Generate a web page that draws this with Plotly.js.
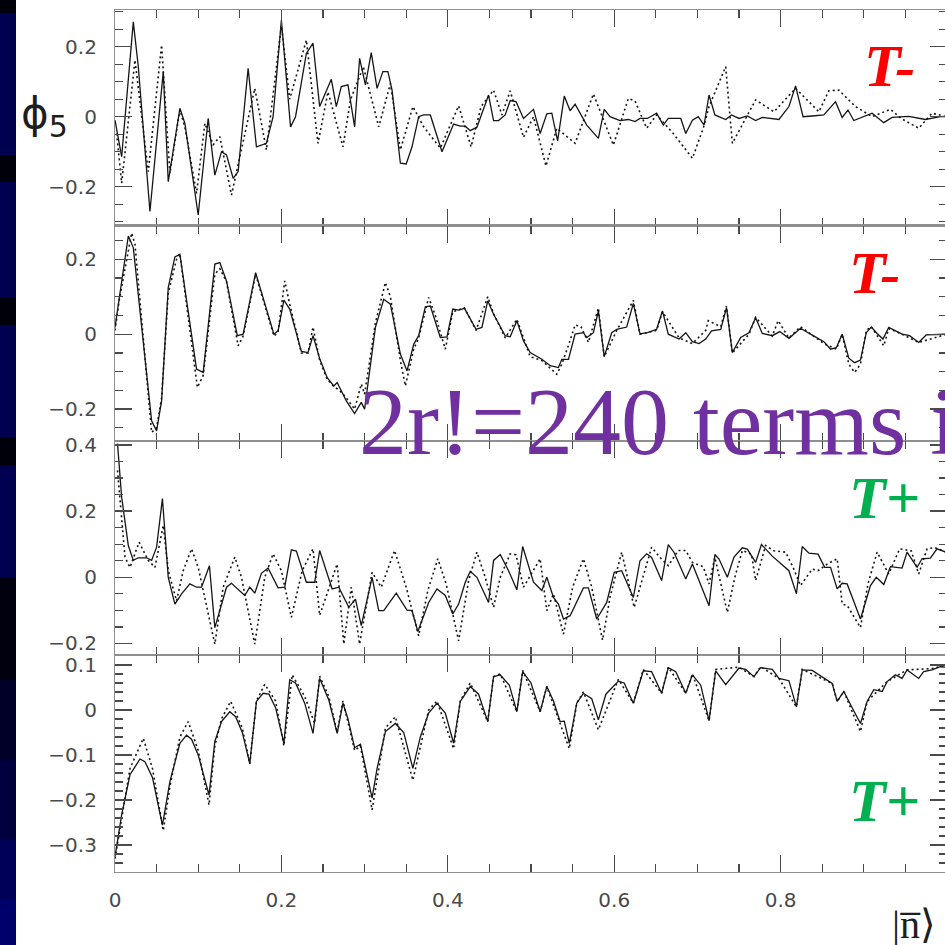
<!DOCTYPE html>
<html><head><meta charset="utf-8">
<script src="https://cdn.plot.ly/plotly-3.0.1.min.js"></script>
<style>html,body{margin:0;padding:0;overflow:hidden;background:#fff}#chart{width:947px;height:945px}</style>
</head><body><div id="chart"></div>
<script>
// ---------------- data (x = |n>, y = phi_5) ----------------
const p1Solid = [[0,-0.01],[0.008,-0.114],[0.022,0.271],[0.028,0.143],[0.042,-0.271],[0.058,0.129],[0.064,-0.186],[0.078,0.024],[0.084,-0.019],[0.100,-0.281],[0.112,-0.005],[0.120,-0.167],[0.128,-0.100],[0.134,-0.109],[0.142,-0.176],[0.148,-0.157],[0.160,0.138],[0.170,-0.086],[0.182,-0.076],[0.190,0.000],[0.200,0.276],[0.211,-0.029],[0.217,0.000],[0.230,0.181],[0.238,0.210],[0.246,0.029],[0.260,0.107],[0.266,0.029],[0.272,0.086],[0.280,0.091],[0.288,-0.029],[0.294,0.167],[0.301,0.091],[0.308,0.183],[0.315,0.081],[0.322,0.129],[0.328,0.129],[0.333,0.076],[0.343,-0.133],[0.350,-0.135],[0.357,-0.086],[0.365,0.000],[0.371,0.005],[0.379,0.005],[0.393,-0.100],[0.407,-0.021],[0.415,-0.027],[0.421,-0.027],[0.427,-0.040],[0.435,-0.030],[0.449,0.062],[0.455,-0.011],[0.461,-0.011],[0.469,0.005],[0.475,0.046],[0.482,0.043],[0.491,-0.005],[0.503,0.021],[0.511,-0.048],[0.519,0.008],[0.525,0.010],[0.532,-0.069],[0.540,0.059],[0.547,0.017],[0.553,0.036],[0.567,-0.024],[0.581,-0.062],[0.588,0.021],[0.595,0.000],[0.607,-0.011],[0.617,-0.008],[0.625,-0.014],[0.631,-0.005],[0.640,-0.005],[0.651,0.010],[0.659,-0.024],[0.665,-0.005],[0.680,-0.005],[0.686,-0.048],[0.694,-0.010],[0.701,0.000],[0.708,-0.024],[0.714,0.062],[0.721,0.005],[0.734,-0.008],[0.741,0.005],[0.750,-0.005],[0.760,0.002],[0.770,-0.011],[0.778,-0.002],[0.798,-0.008],[0.810,0.029],[0.818,0.088],[0.827,0.000],[0.838,0.002],[0.852,0.005],[0.866,0.043],[0.874,-0.002],[0.881,0.019],[0.888,-0.011],[0.910,0.010],[0.924,-0.017],[0.934,-0.002],[0.954,0.001],[0.974,-0.008],[0.992,0.000],[1.0,0.0]];
const p1Dotted = [[0.002,-0.048],[0.008,-0.190],[0.024,0.162],[0.040,-0.157],[0.056,0.205],[0.066,-0.162],[0.078,0.020],[0.084,-0.030],[0.098,-0.219],[0.108,-0.019],[0.118,-0.080],[0.126,-0.057],[0.140,-0.224],[0.168,0.081],[0.182,-0.095],[0.200,0.260],[0.210,0.050],[0.230,0.219],[0.244,-0.076],[0.256,0.071],[0.274,-0.086],[0.283,0.048],[0.2985,0.143],[0.317,-0.029],[0.331,0.095],[0.343,-0.095],[0.358,0.029],[0.371,-0.029],[0.391,-0.090],[0.413,0.031],[0.428,-0.086],[0.440,0.029],[0.455,0.076],[0.465,0.005],[0.475,0.074],[0.491,-0.059],[0.503,0.000],[0.518,-0.141],[0.531,-0.033],[0.553,-0.076],[0.575,0.065],[0.599,-0.081],[0.617,0.052],[0.625,0.045],[0.639,-0.033],[0.651,0.005],[0.671,-0.048],[0.694,-0.119],[0.707,-0.033],[0.714,0.029],[0.734,0.143],[0.742,-0.076],[0.770,0.048],[0.792,0.014],[0.818,0.081],[0.828,0.057],[0.846,0.014],[0.858,0.074],[0.870,0.076],[0.890,0.029],[0.910,0.000],[0.932,0.021],[0.945,-0.005],[0.966,-0.033],[0.982,0.010],[1.0,0.0]];
const p2Solid = [[0,0.018],[0.005,0.098],[0.016,0.262],[0.022,0.231],[0.044,-0.231],[0.050,-0.258],[0.056,-0.178],[0.064,0.124],[0.072,0.206],[0.078,0.213],[0.098,-0.093],[0.106,-0.102],[0.120,0.187],[0.126,0.191],[0.134,0.142],[0.147,-0.004],[0.154,0.000],[0.169,0.164],[0.191,0.000],[0.196,0.009],[0.203,0.091],[0.210,0.067],[0.224,-0.046],[0.232,-0.049],[0.238,-0.004],[0.246,-0.065],[0.255,-0.116],[0.263,-0.138],[0.267,-0.129],[0.278,-0.178],[0.288,-0.212],[0.296,-0.182],[0.300,-0.200],[0.313,0.018],[0.323,0.093],[0.331,0.080],[0.343,-0.053],[0.351,-0.098],[0.359,-0.027],[0.365,-0.004],[0.373,0.073],[0.379,0.075],[0.391,-0.009],[0.399,-0.007],[0.406,0.067],[0.413,0.064],[0.420,0.069],[0.434,0.013],[0.441,0.018],[0.448,0.089],[0.455,0.053],[0.469,-0.004],[0.475,-0.007],[0.483,0.036],[0.491,-0.018],[0.499,-0.049],[0.513,-0.067],[0.523,-0.084],[0.533,-0.089],[0.537,-0.067],[0.545,-0.067],[0.553,0.000],[0.563,0.004],[0.567,-0.009],[0.575,0.004],[0.581,0.062],[0.588,-0.060],[0.597,0.004],[0.603,0.013],[0.615,0.019],[0.623,0.082],[0.631,0.001],[0.640,0.004],[0.651,0.013],[0.658,0.062],[0.665,0.000],[0.678,-0.013],[0.686,0.004],[0.694,-0.020],[0.702,-0.025],[0.710,-0.013],[0.717,0.009],[0.728,0.013],[0.735,0.071],[0.742,-0.049],[0.752,-0.009],[0.762,0.004],[0.770,0.044],[0.778,0.002],[0.790,-0.004],[0.799,0.007],[0.810,-0.011],[0.818,0.004],[0.824,0.016],[0.836,0.000],[0.852,-0.020],[0.860,-0.040],[0.867,-0.036],[0.874,0.000],[0.882,-0.064],[0.889,-0.076],[0.896,-0.069],[0.903,0.004],[0.909,0.019],[0.916,0.002],[0.923,-0.013],[0.930,0.018],[0.946,0.000],[0.955,-0.004],[0.966,-0.022],[0.975,-0.002],[0.992,0.000],[1.0,0.0]];
const p2Dotted = [[0,0.010],[0.005,0.090],[0.020,0.270],[0.024,0.240],[0.044,-0.262],[0.050,-0.250],[0.056,-0.170],[0.064,0.110],[0.074,0.200],[0.078,0.215],[0.099,-0.142],[0.106,-0.110],[0.120,0.160],[0.126,0.175],[0.134,0.140],[0.148,-0.031],[0.154,-0.005],[0.169,0.160],[0.191,-0.005],[0.196,0.005],[0.204,0.142],[0.210,0.080],[0.224,-0.050],[0.232,-0.050],[0.238,0.019],[0.246,-0.070],[0.255,-0.120],[0.263,-0.140],[0.270,-0.150],[0.278,-0.170],[0.288,-0.200],[0.296,-0.133],[0.300,-0.160],[0.313,0.030],[0.325,0.138],[0.331,0.100],[0.343,-0.070],[0.349,-0.138],[0.359,-0.040],[0.365,-0.010],[0.377,0.098],[0.385,0.050],[0.397,-0.040],[0.406,0.060],[0.420,0.070],[0.434,0.010],[0.448,0.100],[0.455,0.055],[0.469,-0.010],[0.483,0.040],[0.499,-0.060],[0.513,-0.070],[0.531,-0.107],[0.537,-0.080],[0.545,-0.030],[0.553,0.025],[0.560,0.020],[0.569,-0.022],[0.581,0.070],[0.588,-0.060],[0.603,0.010],[0.623,0.090],[0.631,0.000],[0.651,0.010],[0.658,0.060],[0.678,-0.010],[0.694,-0.025],[0.710,0.010],[0.713,0.036],[0.728,0.020],[0.735,0.075],[0.742,-0.050],[0.762,0.000],[0.770,0.045],[0.790,-0.005],[0.797,0.036],[0.810,-0.010],[0.824,0.020],[0.852,-0.025],[0.867,-0.040],[0.874,0.000],[0.882,-0.080],[0.889,-0.102],[0.896,-0.080],[0.903,0.010],[0.909,0.020],[0.924,-0.031],[0.930,0.015],[0.946,0.000],[0.966,-0.022],[1.0,0.0]];
const p3Solid = [[0.003,0.404],[0.008,0.242],[0.016,0.096],[0.022,0.051],[0.028,0.059],[0.038,0.059],[0.044,0.051],[0.050,0.091],[0.057,0.238],[0.064,0.000],[0.072,-0.081],[0.080,-0.050],[0.090,-0.020],[0.098,-0.030],[0.104,-0.030],[0.1135,0.035],[0.120,-0.152],[0.134,-0.030],[0.140,-0.018],[0.156,-0.055],[0.162,-0.030],[0.168,-0.048],[0.176,0.012],[0.184,0.028],[0.196,-0.032],[0.204,-0.030],[0.212,0.083],[0.218,0.079],[0.230,-0.015],[0.240,-0.015],[0.246,0.081],[0.261,-0.035],[0.269,-0.030],[0.281,-0.091],[0.289,-0.066],[0.296,-0.146],[0.309,0.000],[0.317,-0.101],[0.323,-0.101],[0.338,-0.048],[0.351,-0.099],[0.357,-0.101],[0.364,-0.164],[0.377,-0.076],[0.387,-0.035],[0.397,-0.055],[0.406,-0.111],[0.413,-0.081],[0.421,-0.015],[0.427,0.018],[0.435,0.000],[0.449,-0.076],[0.455,0.051],[0.463,0.069],[0.473,0.020],[0.483,-0.038],[0.490,0.093],[0.503,-0.015],[0.513,-0.040],[0.519,0.000],[0.527,-0.061],[0.533,-0.081],[0.539,-0.126],[0.547,-0.116],[0.563,-0.032],[0.569,-0.032],[0.579,-0.126],[0.591,-0.076],[0.600,0.015],[0.609,0.020],[0.623,-0.061],[0.631,0.050],[0.639,0.071],[0.645,0.060],[0.657,-0.010],[0.665,0.099],[0.672,0.075],[0.686,-0.005],[0.694,0.040],[0.701,-0.005],[0.714,-0.086],[0.721,0.069],[0.726,0.055],[0.736,0.000],[0.744,0.061],[0.754,0.089],[0.760,0.085],[0.770,0.045],[0.777,0.099],[0.790,0.064],[0.810,0.020],[0.819,-0.050],[0.826,0.093],[0.834,0.073],[0.845,0.070],[0.853,0.030],[0.860,0.030],[0.868,-0.035],[0.874,-0.018],[0.880,-0.020],[0.888,-0.071],[0.896,-0.126],[0.908,-0.025],[0.915,0.000],[0.924,-0.022],[0.932,0.032],[0.946,0.028],[0.952,0.076],[0.964,0.030],[0.970,0.056],[0.980,0.058],[0.988,0.086],[1.0,0.075]];
const p3Dotted = [[0.003,0.323],[0.012,0.061],[0.018,0.030],[0.029,0.106],[0.040,0.051],[0.048,0.030],[0.058,0.157],[0.064,0.020],[0.074,-0.071],[0.082,0.020],[0.092,0.086],[0.100,0.030],[0.120,-0.202],[0.130,-0.030],[0.144,0.061],[0.152,0.000],[0.168,-0.202],[0.180,0.000],[0.190,0.071],[0.200,0.020],[0.212,-0.121],[0.225,0.020],[0.238,0.086],[0.246,-0.115],[0.267,0.040],[0.275,-0.202],[0.284,-0.030],[0.294,-0.202],[0.309,0.015],[0.320,-0.030],[0.336,0.081],[0.350,-0.030],[0.365,-0.177],[0.376,-0.040],[0.388,0.056],[0.398,-0.020],[0.413,-0.192],[0.425,-0.010],[0.435,0.076],[0.445,0.000],[0.455,-0.091],[0.463,0.000],[0.475,0.071],[0.482,0.068],[0.491,-0.030],[0.500,0.010],[0.511,0.056],[0.519,-0.101],[0.527,-0.050],[0.539,-0.172],[0.550,-0.030],[0.563,0.056],[0.573,-0.030],[0.586,-0.190],[0.595,-0.060],[0.609,0.076],[0.624,-0.091],[0.645,0.091],[0.655,0.060],[0.665,0.035],[0.677,0.081],[0.686,0.081],[0.694,0.045],[0.707,0.032],[0.714,-0.020],[0.721,0.060],[0.736,-0.106],[0.745,0.000],[0.754,0.081],[0.765,0.070],[0.770,-0.010],[0.782,0.096],[0.792,0.080],[0.806,0.076],[0.815,0.030],[0.824,-0.025],[0.838,0.025],[0.845,0.020],[0.856,0.040],[0.868,0.056],[0.874,-0.081],[0.880,-0.085],[0.896,-0.152],[0.905,-0.020],[0.916,0.076],[0.930,0.010],[0.943,0.086],[0.957,0.080],[0.966,0.010],[0.976,0.086],[0.985,0.090],[1.0,0.075]];
const p4Solid = [[0,-0.326],[0.008,-0.233],[0.018,-0.144],[0.030,-0.109],[0.036,-0.115],[0.045,-0.150],[0.057,-0.256],[0.066,-0.159],[0.078,-0.074],[0.086,-0.056],[0.092,-0.065],[0.100,-0.100],[0.113,-0.189],[0.120,-0.070],[0.128,-0.026],[0.138,-0.004],[0.145,-0.015],[0.153,-0.050],[0.162,-0.119],[0.170,0.019],[0.178,0.037],[0.185,0.035],[0.193,0.005],[0.203,-0.074],[0.210,0.067],[0.217,0.060],[0.228,0.015],[0.238,-0.052],[0.246,0.070],[0.257,0.022],[0.267,-0.052],[0.274,0.015],[0.280,-0.020],[0.288,-0.084],[0.295,-0.076],[0.309,-0.196],[0.315,-0.130],[0.325,-0.048],[0.337,-0.030],[0.347,-0.050],[0.358,-0.130],[0.367,-0.060],[0.377,-0.007],[0.387,0.015],[0.397,-0.007],[0.407,-0.074],[0.415,0.019],[0.427,0.052],[0.437,0.035],[0.448,-0.026],[0.455,0.074],[0.463,0.078],[0.474,0.055],[0.483,-0.004],[0.490,0.085],[0.500,0.060],[0.511,-0.004],[0.519,0.052],[0.527,0.020],[0.535,-0.026],[0.540,-0.025],[0.546,-0.074],[0.555,0.015],[0.563,0.037],[0.573,0.025],[0.581,-0.022],[0.590,0.035],[0.605,0.064],[0.612,0.060],[0.623,0.015],[0.635,0.087],[0.645,0.085],[0.657,0.037],[0.665,0.094],[0.674,0.085],[0.686,0.037],[0.694,0.078],[0.704,0.055],[0.714,-0.024],[0.722,0.087],[0.734,0.056],[0.750,0.093],[0.758,0.090],[0.768,0.074],[0.776,0.094],[0.790,0.090],[0.798,0.070],[0.810,0.065],[0.819,0.007],[0.826,0.089],[0.838,0.088],[0.853,0.070],[0.862,0.059],[0.868,0.019],[0.876,0.041],[0.886,0.005],[0.896,-0.030],[0.904,0.019],[0.912,0.045],[0.922,0.041],[0.928,0.063],[0.938,0.078],[0.946,0.070],[0.952,0.089],[0.966,0.070],[0.972,0.085],[0.982,0.089],[0.992,0.096],[1.0,0.095]];
const p4Dotted = [[0,-0.330],[0.008,-0.240],[0.018,-0.130],[0.034,-0.063],[0.045,-0.130],[0.058,-0.268],[0.066,-0.170],[0.078,-0.060],[0.088,-0.026],[0.100,-0.090],[0.113,-0.211],[0.120,-0.080],[0.128,-0.020],[0.139,0.019],[0.153,-0.040],[0.162,-0.120],[0.170,0.020],[0.180,0.057],[0.193,0.020],[0.203,-0.080],[0.213,0.078],[0.228,0.030],[0.240,-0.030],[0.246,0.075],[0.257,0.030],[0.267,-0.050],[0.274,0.020],[0.288,-0.090],[0.295,-0.080],[0.309,-0.222],[0.325,-0.040],[0.337,-0.015],[0.358,-0.156],[0.377,0.000],[0.387,0.020],[0.407,-0.086],[0.415,0.020],[0.427,0.060],[0.448,-0.026],[0.455,0.074],[0.463,0.080],[0.483,-0.004],[0.490,0.088],[0.511,-0.004],[0.519,0.052],[0.535,-0.030],[0.546,-0.086],[0.555,0.015],[0.563,0.040],[0.581,-0.044],[0.605,0.068],[0.623,0.015],[0.635,0.090],[0.657,0.037],[0.665,0.095],[0.686,0.037],[0.694,0.080],[0.714,-0.024],[0.722,0.090],[0.750,0.095],[0.768,0.074],[0.776,0.096],[0.798,0.070],[0.819,0.007],[0.826,0.090],[0.862,0.059],[0.868,0.019],[0.876,0.041],[0.896,-0.048],[0.904,0.019],[0.928,0.063],[0.952,0.089],[0.982,0.092],[1.0,0.100]];

const xTickVals = [0, 0.2, 0.4, 0.6, 0.8, 1];
const xTickText = ['0', '0.2', '0.4', '0.6', '0.8', '1'];
const y1TickVals = [-0.2, 0, 0.2];       const y1TickText = ['\u22120.2', '0', '0.2'];
const y2TickVals = [-0.2, 0, 0.2];       const y2TickText = ['\u22120.2', '0', '0.2'];
const y3TickVals = [-0.2, 0, 0.2, 0.4];  const y3TickText = ['\u22120.2', '0', '0.2', '0.4'];
const y4TickVals = [-0.3, -0.2, -0.1, 0, 0.1]; const y4TickText = ['\u22120.3', '\u22120.2', '\u22120.1', '0', '0.1'];
const panelTags = ['T-', 'T-', 'T+', 'T+'];
const yLabel = '\u03d5<sub><span style="font-size:30px">5</span></sub>';
const xLabel = '|n\u0305\u27e9';
const banner = '2r!=240 terms i';

// ---------------- layout helpers ----------------
const L = 115, TOP = 10, BOT = 73, W = 947, H = 945;
const PW = W - L, PH = H - TOP - BOT;
const px2x = p => (p - L) / PW;
const py2y = p => (H - BOT - p) / PH;

const panels = [
  {solid: p1Solid, dotted: p1Dotted, dom: [0.75, 1], range: [-0.311, 0.305], tv: y1TickVals, tt: y1TickText, minor: 0.05},
  {solid: p2Solid, dotted: p2Dotted, dom: [0.5, 0.75], range: [-0.285, 0.29], tv: y2TickVals, tt: y2TickText, minor: 0.05},
  {solid: p3Solid, dotted: p3Dotted, dom: [0.2517, 0.5], range: [-0.235, 0.412], tv: y3TickVals, tt: y3TickText, minor: 0.05},
  {solid: p4Solid, dotted: p4Dotted, dom: [0, 0.2517], range: [-0.36, 0.122], tv: y4TickVals, tt: y4TickText, minor: 0.02}
];

const AX_LINE = '#8f8f8f', TICK = '#4a4a4a';
const tickFont = {family: 'DejaVu Sans, Verdana, sans-serif', size: 20, color: '#4a4a4a'};

const traces = [];
const layout = {
  width: W, height: H, margin: {l: L, r: 0, t: TOP, b: BOT},
  paper_bgcolor: '#ffffff', plot_bgcolor: '#ffffff', showlegend: false,
  shapes: [], annotations: []
};

panels.forEach((p, i) => {
  const n = i + 1, xs = n === 1 ? 'x' : 'x' + n, ys = n === 1 ? 'y' : 'y' + n;
  traces.push({x: p.dotted.map(d => d[0]), y: p.dotted.map(d => d[1]), xaxis: xs, yaxis: ys, mode: 'lines',
    line: {color: '#151515', width: 1.6, dash: '2px,3px'}, hoverinfo: 'skip'});
  traces.push({x: p.solid.map(d => d[0]), y: p.solid.map(d => d[1]), xaxis: xs, yaxis: ys, mode: 'lines',
    line: {color: '#151515', width: 1.3}, hoverinfo: 'skip'});
  layout[n === 1 ? 'xaxis' : 'xaxis' + n] = {
    anchor: ys, domain: [0, 1], range: [0, 1], showline: true, linecolor: AX_LINE, linewidth: 1.1,
    mirror: 'ticks', ticks: 'inside', ticklen: 17, tickwidth: 1.3, tickcolor: TICK,
    tickmode: 'array', tickvals: xTickVals, ticktext: xTickText,
    showticklabels: n === 4, tickfont: tickFont, ticklabelstandoff: 10,
    minor: {tickmode: 'linear', tick0: 0, dtick: 0.05, ticks: 'inside', ticklen: 8, tickwidth: 1.2, tickcolor: TICK, showgrid: false},
    showgrid: false, zeroline: false, fixedrange: true
  };
  layout[n === 1 ? 'yaxis' : 'yaxis' + n] = {
    anchor: xs, domain: p.dom, range: p.range, showline: true, linecolor: AX_LINE, linewidth: 1.1,
    mirror: 'ticks', ticks: 'inside', ticklen: 17, tickwidth: 1.3, tickcolor: TICK,
    tickmode: 'array', tickvals: p.tv, ticktext: p.tt, tickfont: tickFont, ticklabelstandoff: 13,
    minor: {tickmode: 'linear', tick0: 0, dtick: p.minor, ticks: 'inside', ticklen: 8, tickwidth: 1.2, tickcolor: TICK, showgrid: false},
    showgrid: false, zeroline: false, fixedrange: true
  };
});

// dark slide strip on the left
const strip = [[0, 13, '#00000a'], [13, 155, '#000050'], [155, 182, '#00000a'], [182, 298, '#000050'],
  [298, 325, '#00000a'], [325, 437, '#000050'], [437, 465, '#00000a'], [465, 578, '#000050'],
  [578, 680, '#00000e'], [680, 760, '#000028'], [760, 840, '#00003e'], [840, 900, '#000058'], [900, 945, '#00006a']];
strip.forEach(s => layout.shapes.push({type: 'rect', xref: 'paper', yref: 'paper',
  x0: px2x(0), x1: px2x(16), y0: py2y(s[1]), y1: py2y(s[0]), fillcolor: s[2], line: {width: 0}, layer: 'above'}));

// tags
const tagPos = [[862, 66], [847, 273], [847, 498], [847, 801]];
const tagCol = ['#ff0000', '#ff0000', '#00b050', '#00b050'];
panelTags.forEach((t, i) => layout.annotations.push({
  xref: 'paper', yref: 'paper', x: px2x(tagPos[i][0]), y: py2y(tagPos[i][1]), xanchor: 'left', yanchor: 'middle',
  text: '<b><i>' + t + '</i></b>', showarrow: false,
  font: {family: 'Liberation Serif, Times New Roman, serif', size: 60, color: tagCol[i]}
}));
layout.annotations.push({xref: 'paper', yref: 'paper', x: px2x(357), y: py2y(422), xanchor: 'left', yanchor: 'middle',
  text: banner, showarrow: false, font: {family: 'Liberation Serif, Times New Roman, serif', size: 96, color: '#7030a0'}});
layout.annotations.push({xref: 'paper', yref: 'paper', x: px2x(19), y: py2y(116), xanchor: 'left', yanchor: 'middle',
  text: yLabel, showarrow: false, font: {family: 'DejaVu Sans, sans-serif', size: 42, color: '#1e1e1e'}});
layout.annotations.push({xref: 'paper', yref: 'paper', x: px2x(890), y: py2y(924), xanchor: 'left', yanchor: 'middle',
  text: xLabel, showarrow: false, font: {family: 'Liberation Serif, DejaVu Serif, serif', size: 40, color: '#1e1e1e'}});

Plotly.newPlot('chart', traces, layout, {staticPlot: true, displayModeBar: false});
</script>
</body></html>
